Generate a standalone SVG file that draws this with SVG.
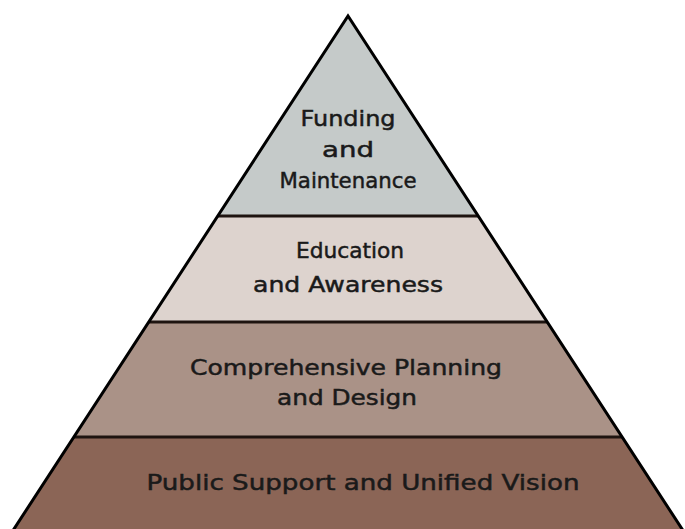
<svg xmlns="http://www.w3.org/2000/svg" width="685" height="529" viewBox="0 0 685 529">
<style>
.t{font-family:"DejaVu Sans","Liberation Sans",sans-serif;font-size:22px;fill:#1a1a1a;stroke:#1a1a1a;stroke-width:0.5;text-anchor:middle}
.div{stroke:#1e1410;stroke-width:3}
</style>
<rect width="685" height="529" fill="#ffffff"/>
<g id="layer-funding">
<polygon points="348,16 218,216 478,216" fill="#c5cac9"/>
<text class="t" x="348" y="126" textLength="95" lengthAdjust="spacingAndGlyphs">Funding</text>
<text class="t" x="348" y="157" textLength="52" lengthAdjust="spacingAndGlyphs">and</text>
<text class="t" x="348" y="188" textLength="137" lengthAdjust="spacingAndGlyphs">Maintenance</text>
</g>
<g id="layer-education">
<polygon points="218,216 478,216 547,322 149,322" fill="#ddd3ce"/>
<text class="t" x="350" y="258" textLength="108" lengthAdjust="spacingAndGlyphs">Education</text>
<text class="t" x="348" y="292" textLength="190" lengthAdjust="spacingAndGlyphs">and Awareness</text>
</g>
<g id="layer-planning">
<polygon points="149,322 547,322 622,437 74,437" fill="#aa9287"/>
<text class="t" x="346" y="375" textLength="312" lengthAdjust="spacingAndGlyphs">Comprehensive Planning</text>
<text class="t" x="347" y="405" textLength="140" lengthAdjust="spacingAndGlyphs">and Design</text>
</g>
<g id="layer-public">
<polygon points="74,437 622,437 684,532 12,532" fill="#8b6556"/>
<text class="t" x="363" y="490" textLength="433" lengthAdjust="spacingAndGlyphs">Public Support and Unified Vision</text>
</g>
<g id="connectors" fill="none">
<line class="div" x1="218" y1="216" x2="478" y2="216"/>
<line class="div" x1="149" y1="322" x2="547" y2="322"/>
<line class="div" x1="74" y1="437" x2="622" y2="437"/>
<polyline points="12,532 348,16 684,532" stroke="#000" stroke-width="3" stroke-linejoin="miter"/>
</g>
</svg>
